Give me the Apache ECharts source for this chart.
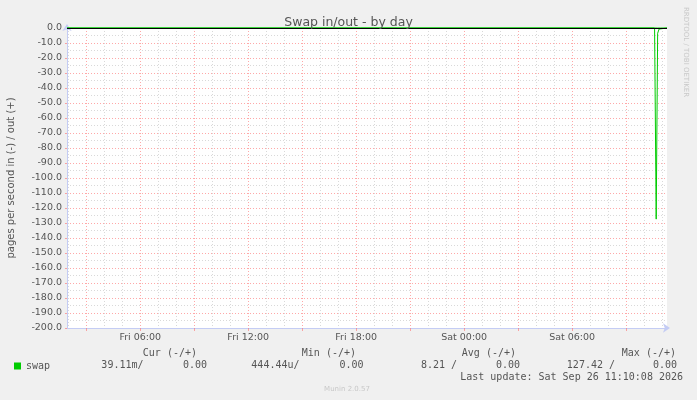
<!DOCTYPE html>
<html>
<head>
<meta charset="utf-8">
<script src="https://cdn.jsdelivr.net/npm/echarts@6/dist/echarts.min.js"></script>
<style>
  html, body { margin: 0; padding: 0; background: #f0f0f0; }
  #chart { width: 697px; height: 400px; }
</style>
</head>
<body>
<div id="chart"></div>
<script>
// hours counted from Fri 00:00
const hours = [1.93, 34.58, 34.67, 34.75, 34.83, 34.92, 35.27]
const swapIn = [0, 0, -127.42, -3.5, -0.7, 0, 0]
const swapOut = [0, 0, 0, 0, 0, 0, 0]

const xLabelHours = [6, 12, 18, 24, 30]
const xLabelNames = ['Fri 06:00', 'Fri 12:00', 'Fri 18:00', 'Sat 00:00', 'Sat 06:00']
const xMajorHours = [3, 6, 9, 12, 15, 18, 21, 24, 27, 30, 33]
const xMinorHours = [2, 4, 5, 7, 8, 10, 11, 13, 14, 16, 17, 19, 20, 22, 23, 25, 26, 28, 29, 31, 32, 34, 35]

const legendHead = ['Cur (-/+)', 'Min (-/+)', 'Avg (-/+)', 'Max (-/+)']
const legendIn = ['39.11m/', '444.44u/', '8.21 /', '127.42 /']
const legendOut = ['0.00', '0.00', '0.00', '0.00']
const lastUpdate = 'Last update: Sat Sep 26 11:10:08 2026'

const FONT = "'DejaVu Sans', sans-serif"
const MONO = "'DejaVu Sans Mono', monospace"
const TXT = '#555'
const RED = 'rgba(255,110,110,0.6)'
const GRAY = 'rgba(160,160,160,0.4)'
const AXIS = '#c4ccf4'

let chart = echarts.init(document.getElementById('chart'))

// legend text rows
let texts = []
const headRight = [197, 356, 516, 676]
const inRight = [143.5, 299.5, 457, 615]
const outRight = [207, 363.5, 520, 677]
for (let i = 0; i < 4; i++) {
    texts.push({type: 'text', x: headRight[i], y: 353, style: {text: legendHead[i], font: '10px ' + MONO, fill: TXT, align: 'right', verticalAlign: 'middle'}})
    texts.push({type: 'text', x: inRight[i], y: 365, style: {text: legendIn[i], font: '10px ' + MONO, fill: TXT, align: 'right', verticalAlign: 'middle'}})
    texts.push({type: 'text', x: outRight[i], y: 365, style: {text: legendOut[i], font: '10px ' + MONO, fill: TXT, align: 'right', verticalAlign: 'middle'}})
}
texts.push({type: 'text', x: 683, y: 377, style: {text: lastUpdate, font: '10px ' + MONO, fill: TXT, align: 'right', verticalAlign: 'middle'}})
texts.push({type: 'text', x: 347, y: 389, style: {text: 'Munin 2.0.57', font: '7px ' + FONT, fill: '#c8c8c8', align: 'center', verticalAlign: 'middle'}})
texts.push({type: 'text', x: 686, y: 52, rotation: -Math.PI / 2, style: {text: 'RRDTOOL / TOBI OETIKER', font: '7px ' + FONT, fill: '#c8c8c8', align: 'center', verticalAlign: 'middle'}})

const option = {
    backgroundColor: '#f0f0f0',
    animation: false,
    title: {
        text: 'Swap in/out - by day',
        left: 'center',
        top: 11,
        textStyle: {fontSize: 12.5, fontWeight: 'normal', color: TXT, fontFamily: FONT}
    },
    grid: {
        left: 67, right: 30, top: 28, bottom: 72,
        outerBoundsMode: 'none', containLabel: false,
        backgroundColor: '#fff', show: true, borderWidth: 0
    },
    legend: {
        data: ['swap'],
        left: 14,
        top: 361,
        padding: 0,
        icon: 'rect',
        itemWidth: 7,
        itemHeight: 7,
        textStyle: {fontFamily: MONO, fontSize: 10, color: TXT}
    },
    xAxis: [
        {
            type: 'value',
            min: hours[0],
            max: hours[hours.length - 1],
            position: 'bottom',
            axisLine: {onZero: false, lineStyle: {color: AXIS}, symbol: ['none', 'arrow'], symbolSize: [7, 7], symbolOffset: [0, 3]},
            axisTick: {show: true, length: 3, inside: false, customValues: xMajorHours, lineStyle: {color: RED}},
            axisLabel: {
                customValues: xLabelHours,
                formatter: v => xLabelNames[xLabelHours.indexOf(v)],
                fontFamily: FONT, fontSize: 9.5, color: TXT, margin: 5
            },
            splitLine: {show: true, lineStyle: {color: RED, type: [1, 2]}}
        },
        {
            type: 'value',
            min: hours[0],
            max: hours[hours.length - 1],
            position: 'bottom',
            axisLine: {show: false, onZero: false},
            axisTick: {show: false, customValues: xMinorHours},
            axisLabel: {show: false},
            splitLine: {show: true, lineStyle: {color: GRAY, type: [1, 2]}}
        }
    ],
    yAxis: {
        type: 'value',
        min: -200,
        max: 0,
        interval: 10,
        name: 'pages per second in (-) / out (+)',
        nameLocation: 'middle',
        nameGap: 51,
        nameTextStyle: {fontFamily: FONT, fontSize: 10, color: TXT},
        axisLine: {show: true, onZero: false, lineStyle: {color: AXIS}, symbol: ['none', 'arrow'], symbolSize: [7, 7], symbolOffset: [0, 4]},
        axisTick: {show: true, length: 2, lineStyle: {color: RED}},
        axisLabel: {formatter: v => v.toFixed(1), fontFamily: FONT, fontSize: 9.5, color: TXT, margin: 5},
        splitLine: {show: true, lineStyle: {color: RED, type: [1, 2]}},
        minorTick: {show: false, splitNumber: 2},
        minorSplitLine: {show: true, lineStyle: {color: GRAY, type: [1, 2]}}
    },
    series: [
        {
            name: 'swap',
            type: 'line',
            data: hours.map((h, i) => [h, swapOut[i]]),
            symbol: 'none',
            color: '#00cc00',
            lineStyle: {width: 1},
            clip: false
        },
        {
            name: 'swap',
            type: 'line',
            data: hours.map((h, i) => [h, swapIn[i]]),
            symbol: 'none',
            color: '#00cc00',
            lineStyle: {width: 1},
            clip: false,
            markLine: {
                silent: true,
                symbol: 'none',
                label: {show: false},
                lineStyle: {color: '#000', width: 1, type: 'solid'},
                data: [{yAxis: 0}]
            }
        }
    ],
    graphic: texts
}
chart.setOption(option)
</script>
</body>
</html>
